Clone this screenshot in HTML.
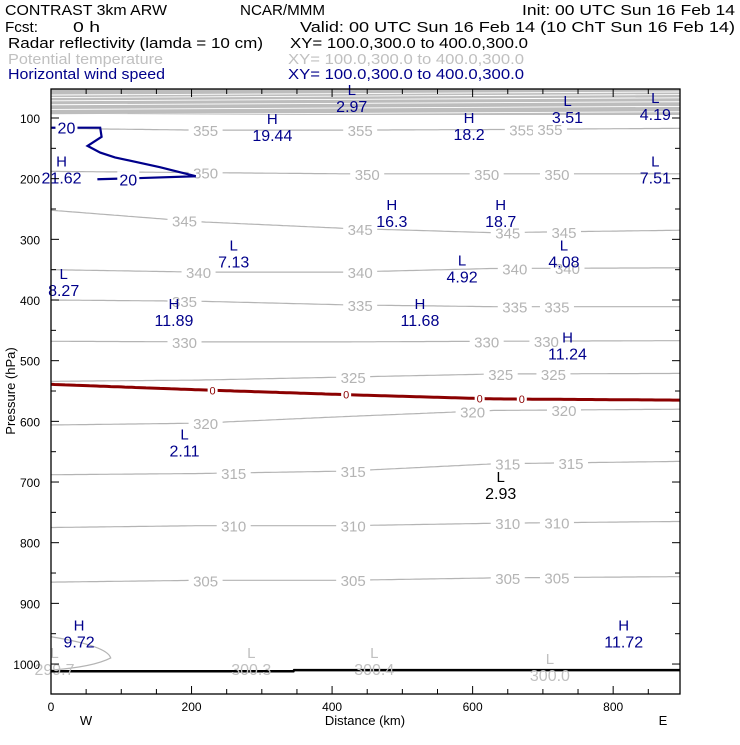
<!DOCTYPE html>
<html><head><meta charset="utf-8"><style>
body{margin:0;background:#fff;width:740px;height:740px;overflow:hidden}
svg{font-family:"Liberation Sans","DejaVu Sans",sans-serif}
</style></head><body>
<svg id="chart" width="740" height="740" viewBox="0 0 740 740" xmlns="http://www.w3.org/2000/svg">
<g font-size="15" fill="#000">
<text x="5" y="15" textLength="162" lengthAdjust="spacingAndGlyphs">CONTRAST   3km ARW</text>
<text x="240" y="15" textLength="85" lengthAdjust="spacingAndGlyphs">NCAR/MMM</text>
<text x="522" y="15" textLength="213" lengthAdjust="spacingAndGlyphs">Init: 00 UTC Sun 16 Feb 14</text>
<text x="5" y="32" textLength="33" lengthAdjust="spacingAndGlyphs">Fcst:</text>
<text x="73" y="32" textLength="27" lengthAdjust="spacingAndGlyphs">0 h</text>
<text x="300" y="32" textLength="435" lengthAdjust="spacingAndGlyphs">Valid: 00 UTC Sun 16 Feb 14 (10 ChT Sun 16 Feb 14)</text>
<text x="8" y="48" textLength="255" lengthAdjust="spacingAndGlyphs">Radar reflectivity (lamda = 10 cm)</text>
<text x="290" y="48" textLength="238" lengthAdjust="spacingAndGlyphs">XY= 100.0,300.0 to 400.0,300.0</text>
<text x="8" y="64" fill="#c0c0c0" textLength="155" lengthAdjust="spacingAndGlyphs">Potential temperature</text>
<text x="288" y="64" fill="#c0c0c0" textLength="236" lengthAdjust="spacingAndGlyphs">XY= 100.0,300.0 to 400.0,300.0</text>
<text x="8" y="79" fill="#00008b" textLength="157" lengthAdjust="spacingAndGlyphs">Horizontal wind speed</text>
<text x="288" y="79" fill="#00008b" textLength="236" lengthAdjust="spacingAndGlyphs">XY= 100.0,300.0 to 400.0,300.0</text>
</g>
<g id="plot"></g>
</svg>
<script>
const NS="http://www.w3.org/2000/svg";
// data
const xTicks=[0,200,400,600,800];
const pTicks=[100,200,300,400,500,600,700,800,900,1000];
const sampleKm=[0,210,420,630,895];
const thetaLevels=[355,350,345,340,335,330,325,320,315,310,305];
const thetaP=[
[117,120,120,119,117],
[188,190,192,192,192],
[252,271,282,289,285],
[350,354,354,348,347],
[400,402,408,411,411],
[468,469,469,468,467],
[534,532,527,522,521],
[606,603,592,582,580],
[688,686,682,670,666],
[775,772,772,768,765],
[865,862,862,858,856]];
const thetaLabelKm=[[220,440,670,710],[220,450,620,720],[190,440,650,730],[210,440,660,735],[190,440,660,720],[190,620,705],[430,640,715],[220,600,730],[260,430,650,740],[260,430,650,720],[220,430,650,720]];
const reflP=[539,548,556,563,565];
const reflLabelKm=[230,420,610,670];
const windKm=[0,70,72,52,70,91,155,206,127,66];
const windP=[116,116,131,146,157,165,181,196,199,201];
const ground=[[0,1012],[345,1012],[346,1010],[895,1010]];
const extremes=[
["L","2.97",428,62,"#00008b"],["H","19.44",315,110,"#00008b"],["H","18.2",595,108,"#00008b"],["L","3.51",735,80,"#00008b"],["L","4.19",860,75,"#00008b"],
["H","21.62",15,180,"#00008b"],["L","7.51",860,180,"#00008b"],["H","16.3",485,252,"#00008b"],["H","18.7",640,252,"#00008b"],
["L","7.13",260,318,"#00008b"],["L","4.92",585,343,"#00008b"],["L","4.08",730,318,"#00008b"],["L","8.27",18,365,"#00008b"],
["H","11.89",175,415,"#00008b"],["H","11.68",525,415,"#00008b"],["H","11.24",735,470,"#00008b"],["L","2.11",190,630,"#00008b"],
["L","2.93",640,700,"#000"],["H","9.72",40,945,"#00008b"],["H","11.72",815,945,"#00008b"],
["L","299.7",5,990,"#c0c0c0"],["L","300.3",285,990,"#c0c0c0"],["L","300.4",460,990,"#c0c0c0"],["L","300.0",710,1000,"#c0c0c0"]];
// axes
const X0=51,X1=680,Y0=89,Y1=694;
function xs(km){return 51+km*0.7027;}
function ys(p){return 118+(p-100)*0.6067;}
function interp(arr,km){for(let i=0;i<sampleKm.length-1;i++){if(km<=sampleKm[i+1]){const t=(km-sampleKm[i])/(sampleKm[i+1]-sampleKm[i]);return arr[i]+t*(arr[i+1]-arr[i]);}}return arr[arr.length-1];}
const plot=document.getElementById('plot');
function mk(tag,attrs,parent){const e=document.createElementNS(NS,tag);for(const k in attrs)e.setAttribute(k,attrs[k]);(parent||plot).appendChild(e);return e;}
// dense top band
const band=mk('g',{});


mk('rect',{x:X0,y:Y0,width:X1-X0,height:26,fill:'#bdbdbd'},band);
for(let i=0;i<9;i++){const y=Y0+4+i*(2.2+i*0.35);mk('line',{x1:X0,y1:y+2,x2:X1,y2:y-1,stroke:'#fff','stroke-width':0.9},band);}
// theta contours
thetaLevels.forEach((lv,i)=>{
 const g=mk('g',{});
 
 
 const pts=[];for(let km=0;km<=895;km+=5)pts.push(xs(km).toFixed(1)+','+ys(interp(thetaP[i],km)).toFixed(1));
 mk('polyline',{points:pts.join(' '),fill:'none',stroke:'#b4b4b4','stroke-width':1.2},g);
 thetaLabelKm[i].forEach(km=>{const x=xs(km),y=ys(interp(thetaP[i],km));
  mk('rect',{x:x-17,y:y-7,width:34,height:14,fill:'#fff'},g);
  const t=mk('text',{x:x,y:y+6,'text-anchor':'middle','font-size':15,fill:'#b4b4b4'},g);t.textContent=lv;});
});
// small closed contour bottom-left
const sc=mk('path',{d:`M${xs(0)},${ys(955)} Q${xs(80)},${ys(970)} ${xs(85)},${ys(990)} Q${xs(60)},${ys(1005)} ${xs(0)},${ys(1010)}`,fill:'none',stroke:'#b4b4b4','stroke-width':1.2});


// reflectivity 0 contour
const rg=mk('g',{});


{const pts=[];for(let km=0;km<=895;km+=5)pts.push(xs(km).toFixed(1)+','+ys(interp(reflP,km)).toFixed(1));
mk('polyline',{points:pts.join(' '),fill:'none',stroke:'#8b0000','stroke-width':3},rg);
reflLabelKm.forEach(km=>{const x=xs(km),y=ys(interp(reflP,km));mk('rect',{x:x-5,y:y-5,width:10,height:10,fill:'#fff'},rg);const t=mk('text',{x:x,y:y+4,'text-anchor':'middle','font-size':11,fill:'#8b0000'},rg);t.textContent='0';});}
// wind contour
const wg=mk('g',{});


mk('polyline',{points:windKm.map((k,i)=>xs(k)+','+ys(windP[i])).join(' '),fill:'none',stroke:'#00008b','stroke-width':2.2},wg);
[[22,116],[110,201]].forEach(([km,p])=>{const x=xs(km),y=ys(p);mk('rect',{x:x-11,y:y-8,width:22,height:16,fill:'#fff'},wg);const t=mk('text',{x:x,y:y+6,'text-anchor':'middle','font-size':16,fill:'#00008b'},wg);t.textContent='20';});
// ground
const gl=mk('polyline',{points:ground.map(d=>xs(d[0])+','+ys(d[1])).join(' '),fill:'none',stroke:'#000','stroke-width':2.5});


// extremes
extremes.forEach(e=>{const g=mk('g',{});
 
 
 const x=xs(e[2]),y=ys(e[3]);
 const a=mk('text',{x:x,y:y,'text-anchor':'middle','font-size':15,fill:e[4]},g);a.textContent=e[0];
 const b=mk('text',{x:x,y:y+17,'text-anchor':'middle','font-size':16,fill:e[4]},g);b.textContent=e[1];});
// frame
const fr=mk('rect',{x:X0,y:Y0,width:X1-X0,height:Y1-Y0,fill:'none',stroke:'#000','stroke-width':1.3});


// x ticks
const xa=mk('g',{});


for(let km=0;km<=895;km+=50){const x=xs(km),L=km%200===0?8:5;mk('line',{x1:x,y1:Y1,x2:x,y2:Y1-L,stroke:'#000'},xa);mk('line',{x1:x,y1:Y0,x2:x,y2:Y0+L,stroke:'#000'},xa);}
xTicks.forEach(v=>{const t=mk('text',{x:xs(v),y:Y1+17,'text-anchor':'middle','font-size':12},xa);t.textContent=v;});
const xt=mk('text',{x:365,y:725,'text-anchor':'middle','font-size':13},xa);xt.textContent='Distance (km)';

const w=mk('text',{x:86,y:725,'text-anchor':'middle','font-size':13},xa);w.textContent='W';
const eT=mk('text',{x:663,y:725,'text-anchor':'middle','font-size':13},xa);eT.textContent='E';
// y ticks
const ya=mk('g',{});


for(let p=100;p<=1000;p+=50){const y=ys(p),L=p%100===0?8:5;mk('line',{x1:X0,y1:y,x2:X0+L,y2:y,stroke:'#000'},ya);mk('line',{x1:X1,y1:y,x2:X1-L,y2:y,stroke:'#000'},ya);}
pTicks.forEach(v=>{const t=mk('text',{x:40,y:ys(v)+5,'text-anchor':'end','font-size':12},ya);t.textContent=v;});
const yt=mk('text',{x:15,y:391,'text-anchor':'middle','font-size':13,transform:'rotate(-90 15 391)'},ya);yt.textContent='Pressure (hPa)';

</script>
</body></html>
